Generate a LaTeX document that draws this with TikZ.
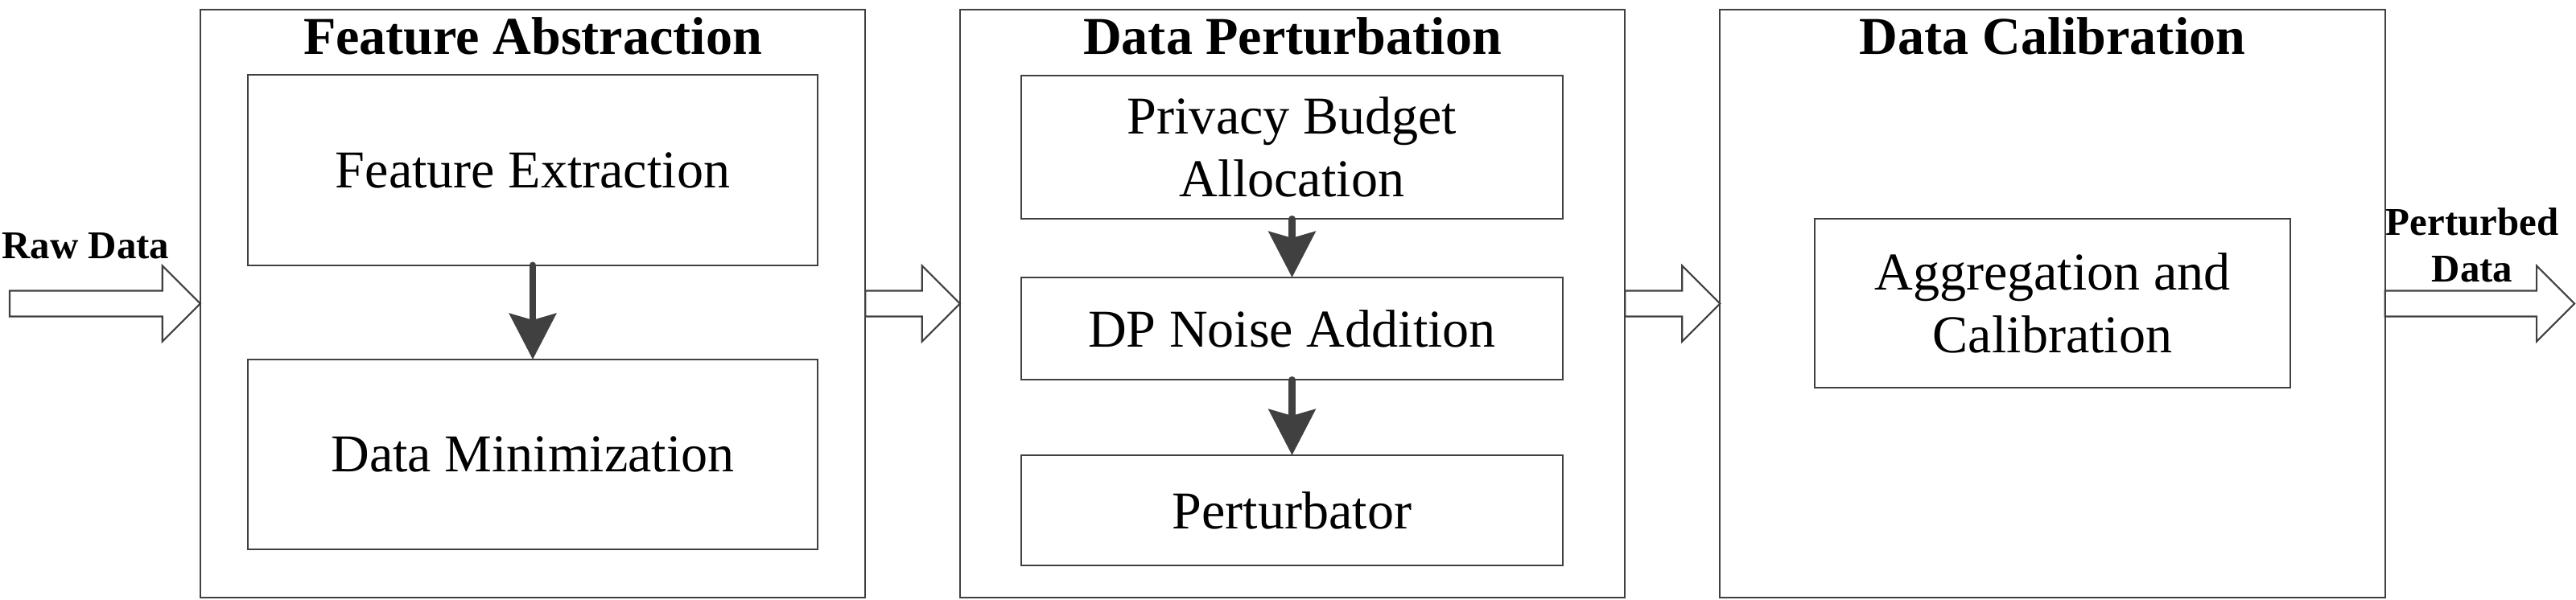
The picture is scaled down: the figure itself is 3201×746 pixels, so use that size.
\documentclass[tikz,border=0pt]{standalone}
\usepackage{fontspec}
\setmainfont{Liberation Serif}
\usepackage{tikz}
\usetikzlibrary{arrows.meta,calc,positioning}
\definecolor{linegray}{RGB}{64,64,64}
\tikzstyle{stage}=[draw=linegray,line width=0.6pt,outer sep=0pt,inner sep=0pt,minimum width=8.26cm,minimum height=7.31cm]
\tikzstyle{block}=[draw=linegray,line width=0.6pt,outer sep=0pt,align=center,font=\fontsize{18.8}{22.1}\selectfont]
\tikzstyle{stagetitle}=[anchor=base,inner sep=0pt,font=\fontsize{18.8}{22.1}\selectfont\bfseries]
\tikzstyle{sidelabel}=[inner sep=0pt,align=center,font=\fontsize{13.9}{16.4}\selectfont\bfseries]
\tikzstyle{hollowflow}=[draw=linegray,line width=0.6pt,fill=white,line join=miter]
\tikzstyle{innerflow}=[draw=linegray,line width=2.3pt,line cap=round,-{Stealth[length=0.57cm,width=0.58cm,inset=0.08cm]}]
% hollow block arrow from #1 to the tip #2
\newcommand{\bigflow}[2]{%
  \draw[hollowflow] ($(#1)+(0,16)$) -- ($(#2)+(-47,16)$) -- ($(#2)+(-47,47)$) -- (#2)
    -- ($(#2)+(-47,-47)$) -- ($(#2)+(-47,-16)$) -- ($(#1)+(0,-16)$) -- cycle;}
\begin{document}
\begin{tikzpicture}[x=0.01cm,y=-0.01cm]
\useasboundingbox (0,0) rectangle (3201,746);

%stages
    \foreach \pos/\name in {{(662,377.5)/fa},{(1606,377.5)/dp},{(2550.5,377.5)/dc}}
        \node[stage] (\name) at \pos {};
    \foreach \name/\title in {fa/Feature Abstraction, dp/Data Perturbation, dc/Data Calibration}
        \node[stagetitle] (\name-t) at ($(\name.north)+(0,56)$) {\title};

%stage 1
    \foreach \pos/\name/\lbl in {{(662,211.5)/fe/Feature Extraction},{(662,565)/dm/Data Minimization}}
        \node[block,minimum width=7.08cm,minimum height=2.36cm] (\name) at \pos {\lbl};
%stage 2
    \foreach \pos/\name/\h/\lbl in {{(1605.5,183)/pb/1.78cm/{Privacy Budget\\Allocation}},{(1605.5,408.5)/dn/1.27cm/DP Noise Addition},{(1605.5,634.5)/pt/1.37cm/Perturbator}}
        \node[block,minimum width=6.73cm,minimum height=\h] (\name) at \pos {\lbl};
%stage 3
    \node[block,minimum width=5.91cm,minimum height=2.10cm] (ac) at (2550.5,377) {Aggregation and\\Calibration};

    % arrows inside the stages
    \foreach \source/ \dest in {fe/dm, pb/dn, dn/pt}
        \draw[innerflow] (\source) -- (\dest);

    % data flow between the stages
    \coordinate (rawin) at (12,377.5);
    \coordinate (pdout) at (3199,377.5);
    \bigflow{rawin}{fa.west}
    \bigflow{fa.east}{dp.west}
    \bigflow{dp.east}{dc.west}
    \bigflow{dc.east}{pdout}

% Label
  \node[sidelabel,anchor=base west] (raw) at (2,322) {Raw Data};
  \node[sidelabel] (pd) at (3072,305) {Perturbed\\Data};

\end{tikzpicture}
\end{document}
